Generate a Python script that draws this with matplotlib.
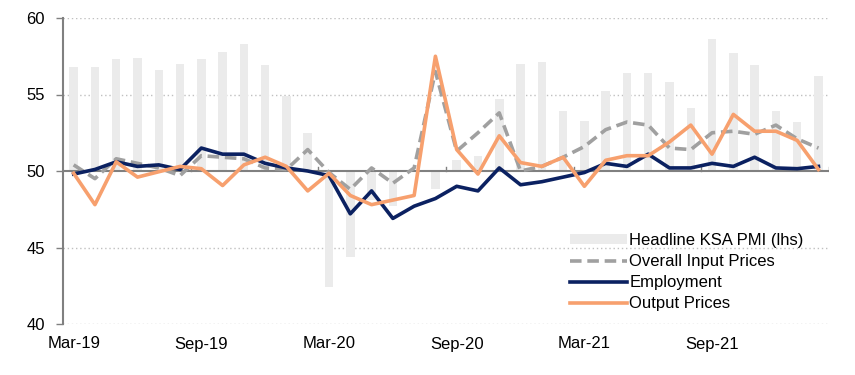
import numpy as np
import matplotlib
matplotlib.use("Agg")
import matplotlib.pyplot as plt

plt.rcParams['font.family'] = ['Liberation Sans', 'DejaVu Sans']

# monthly, Mar-19 .. Feb-22
months = ['Mar-19', 'Apr-19', 'May-19', 'Jun-19', 'Jul-19', 'Aug-19', 'Sep-19', 'Oct-19',
          'Nov-19', 'Dec-19', 'Jan-20', 'Feb-20', 'Mar-20', 'Apr-20', 'May-20', 'Jun-20',
          'Jul-20', 'Aug-20', 'Sep-20', 'Oct-20', 'Nov-20', 'Dec-20', 'Jan-21', 'Feb-21',
          'Mar-21', 'Apr-21', 'May-21', 'Jun-21', 'Jul-21', 'Aug-21', 'Sep-21', 'Oct-21',
          'Nov-21', 'Dec-21', 'Jan-22', 'Feb-22']

headline_pmi = [56.8, 56.8, 57.3, 57.4, 56.6, 57.0, 57.3, 57.8, 58.3, 56.9, 54.9, 52.5,
                42.4, 44.4, 48.1, 47.7, 50.0, 48.8, 50.7, 51.0, 54.7, 57.0, 57.1, 53.9,
                53.3, 55.2, 56.4, 56.4, 55.8, 54.1, 58.6, 57.7, 56.9, 53.9, 53.2, 56.2]

input_prices = [50.4, 49.5, 50.8, 50.5, 50.2, 49.7, 51.0, 50.9, 50.8, 50.2, 50.1, 51.4,
                49.9, 48.8, 50.2, 49.2, 50.2, 56.5, 51.3, 52.5, 53.8, 50.0, 50.3, 50.9,
                51.6, 52.7, 53.2, 53.0, 51.5, 51.4, 52.5, 52.6, 52.4, 53.0, 52.1, 51.5]

employment = [49.8, 50.1, 50.6, 50.3, 50.4, 50.1, 51.5, 51.1, 51.1, 50.5, 50.2, 50.0,
              49.7, 47.2, 48.7, 46.9, 47.7, 48.2, 49.0, 48.7, 50.2, 49.1, 49.3, 49.6,
              49.9, 50.5, 50.3, 51.1, 50.2, 50.2, 50.5, 50.3, 50.9, 50.2, 50.15, 50.3]

output_prices = [49.85, 47.8, 50.6, 49.6, 49.95, 50.3, 50.15, 49.05, 50.4, 50.9, 50.3, 48.7,
                 49.85, 48.4, 47.8, 48.1, 48.4, 57.5, 51.4, 49.8, 52.3, 50.55, 50.3, 50.9,
                 49.0, 50.7, 51.0, 51.0, 51.9, 53.0, 51.1, 53.7, 52.6, 52.6, 52.0, 50.1]

x = np.arange(len(months))
pmi = np.array(headline_pmi)

fig = plt.figure(figsize=(8.55, 3.75), dpi=100)
ax = fig.add_axes([0.0737, 0.136, 0.896, 0.816])

bars = ax.bar(x, pmi - 50, bottom=50, width=0.4, color='#EBEBEB', zorder=1,
              label='Headline KSA PMI (lhs)')
l1, = ax.plot(x, input_prices, color='#A0A0A0', lw=2.6, dashes=(3.2, 1.6), zorder=3,
              label='Overall Input Prices')
l2, = ax.plot(x, employment, color='#0B2161', lw=2.6, zorder=4, label='Employment')
l3, = ax.plot(x, output_prices, color='#F7A06E', lw=2.6, zorder=5, label='Output Prices')

ax.axhline(50, color='#808080', lw=1.5, zorder=2)
for t in np.arange(5.5, 36, 6):
    ax.plot([t, t], [50, 50.25], color='#808080', lw=1, zorder=2)

ax.set_xlim(-0.5, 35.5)
ax.set_ylim(40, 60)
ax.set_yticks([40, 45, 50, 55, 60])
for yv in [40, 45, 55, 60]:
    ax.axhline(yv, color='#C0C0C0', lw=1, ls=(0, (1, 2)), zorder=0)

ax.set_xticks(x[::6])
ax.set_xticklabels(months[::6])
ax.tick_params(axis='x', length=0, pad=9, labelsize=12)
ax.tick_params(axis='y', length=5, width=1, color='#808080', labelsize=12, pad=8)

for s in ['top', 'right', 'bottom']:
    ax.spines[s].set_visible(False)
ax.spines['left'].set_color('#808080')
ax.spines['left'].set_linewidth(1.5)

ax.legend([bars, l1, l2, l3],
          ['Headline KSA PMI (lhs)', 'Overall Input Prices', 'Employment', 'Output Prices'],
          loc='lower left', bbox_to_anchor=(0.662, 0.042), frameon=False, fontsize=12,
          handlelength=3.4, handleheight=0.5, handletextpad=0.15, labelspacing=0.36,
          borderaxespad=0, borderpad=0)

fig.savefig('out.png', dpi=100)
